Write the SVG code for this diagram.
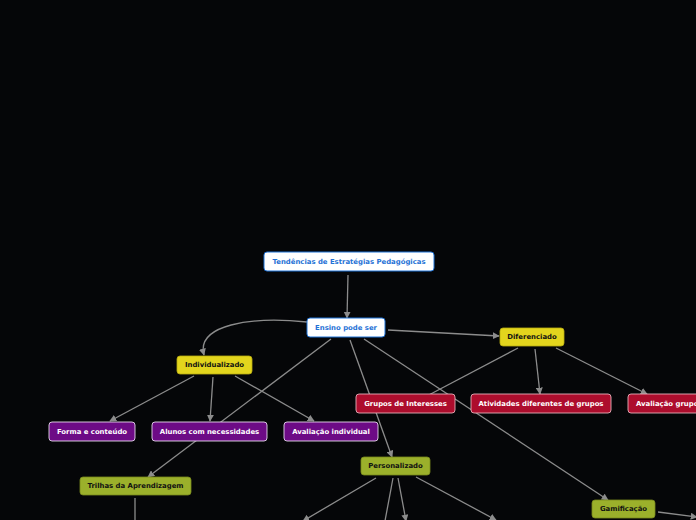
<svg xmlns="http://www.w3.org/2000/svg" width="696" height="520" viewBox="0 0 696 520">
<defs>
<marker id="arr" viewBox="0 0 10 10" refX="9" refY="5" markerWidth="7" markerHeight="7" markerUnits="userSpaceOnUse" orient="auto">
<path d="M0,0 L10,5 L0,10 z" fill="#8c8c8c"/>
</marker>
<style>
text{font-family:"DejaVu Sans","Liberation Sans",sans-serif;font-weight:bold;font-size:6.9px;text-anchor:middle;dominant-baseline:central}
.c{fill:none;stroke:#8c8c8c;stroke-width:1.3}
.a{marker-end:url(#arr)}
.w rect{fill:#fff;stroke:#1f72d6;stroke-width:1}
.w text{fill:#1f72d6}
.y rect{fill:#e3d51d;stroke:#b9ad10;stroke-width:0.8}
.y text{fill:#111}
.p rect{fill:#6d0b86;stroke:#e8d8ee;stroke-width:0.9}
.p text{fill:#fff}
.r rect{fill:#ad0d2d;stroke:#e6b0ba;stroke-width:0.9}
.r text{fill:#fff}
.g rect{fill:#9bb02b;stroke:#7a8b1c;stroke-width:0.8}
.g text{fill:#111}
</style>
</defs>
<rect width="696" height="520" fill="#050608"/>
<g id="connectors">
<path class="c a" d="M348,275 L347,318"/>
<path class="c a" d="M307,322 C250,316 196,325 204,355"/>
<path class="c a" d="M388,330 L499,336"/>
<path class="c a" d="M331,339 L148,477"/>
<path class="c a" d="M350,340 L392,457"/>
<path class="c a" d="M364,339 L608,500"/>
<path class="c" d="M518,348 L425,397"/>
<path class="c a" d="M535,349 L540,394"/>
<path class="c a" d="M556,348 L647,394"/>
<path class="c a" d="M194,376 L110,421"/>
<path class="c a" d="M213,377 L210,421"/>
<path class="c a" d="M235,376 L314,421"/>
<path class="c a" d="M376,478 L303,521"/>
<path class="c" d="M393,478 L385,521"/>
<path class="c a" d="M398,478 L406,521"/>
<path class="c a" d="M416,477 L496,520"/>
<path class="c" d="M135,498 L135,521"/>
<path class="c a" d="M658,512 L697,517"/>
</g>
<g id="n-tendencias" class="w"><rect x="264" y="252" width="170" height="19" rx="3"/><text x="349" y="261.5">Tendências de Estratégias Pedagógicas</text></g>
<g id="n-ensino" class="w"><rect x="307" y="318" width="78" height="19" rx="3"/><text x="346" y="327.5">Ensino pode ser</text></g>
<g id="n-diferenciado" class="y"><rect x="500" y="328" width="64" height="18" rx="3"/><text x="532" y="337">Diferenciado</text></g>
<g id="n-individualizado" class="y"><rect x="177" y="356" width="75" height="18" rx="3"/><text x="214.5" y="365">Individualizado</text></g>
<g id="n-forma" class="p"><rect x="49" y="422" width="86" height="19" rx="3"/><text x="92" y="431.5">Forma e conteúdo</text></g>
<g id="n-alunos" class="p"><rect x="152" y="422" width="115" height="19" rx="3"/><text x="209.5" y="431.5">Alunos com necessidades</text></g>
<g id="n-avalind" class="p"><rect x="284" y="422" width="94" height="19" rx="3"/><text x="331" y="431.5">Avaliação individual</text></g>
<g id="n-grupos" class="r"><rect x="356" y="394" width="99" height="19" rx="3"/><text x="405.5" y="403.5">Grupos de Interesses</text></g>
<g id="n-atividades" class="r"><rect x="471" y="394" width="140" height="19" rx="3"/><text x="541" y="403.5">Atividades diferentes de grupos</text></g>
<g id="n-avalgrupo" class="r"><rect x="628" y="394" width="90" height="19" rx="3"/><text x="636" y="403.5" style="text-anchor:start">Avaliação grupo</text></g>
<g id="n-personalizado" class="g"><rect x="361" y="457" width="69" height="18" rx="3"/><text x="395.5" y="466">Personalizado</text></g>
<g id="n-trilhas" class="g"><rect x="80" y="477" width="111" height="18" rx="3"/><text x="135.5" y="486">Trilhas da Aprendizagem</text></g>
<g id="n-gamificacao" class="g"><rect x="592" y="500" width="63" height="18" rx="3"/><text x="623.5" y="509">Gamificação</text></g>
</svg>
